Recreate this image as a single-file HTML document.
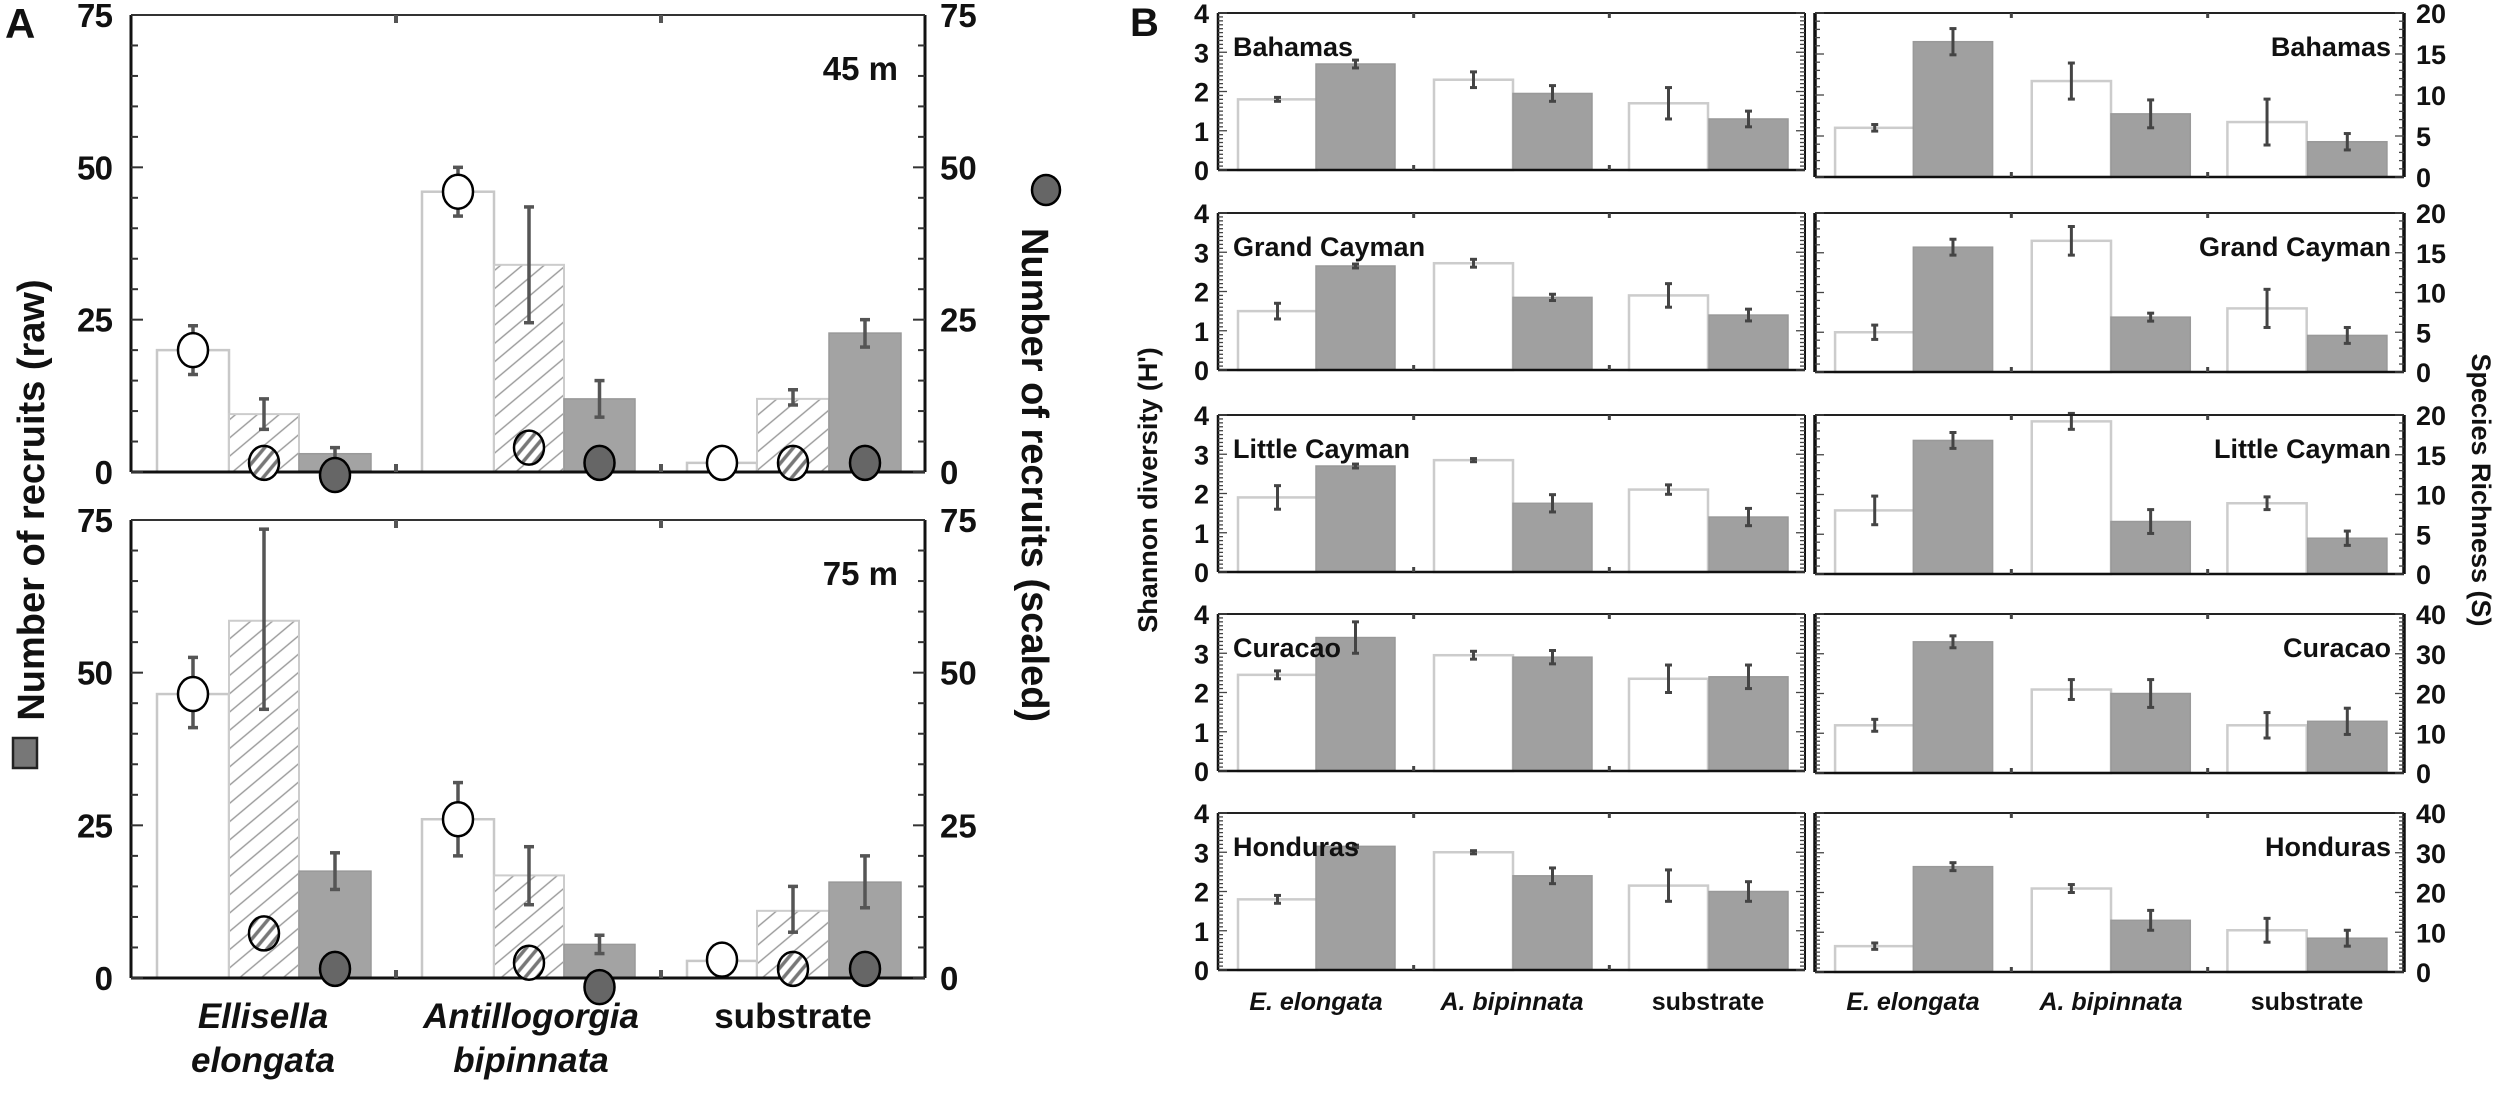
<!DOCTYPE html>
<html><head><meta charset="utf-8"><style>
html,body{margin:0;padding:0;background:#fff;}
svg{display:block;}
text{font-family:"Liberation Sans",sans-serif;font-weight:bold;fill:#111;}
</style></head><body>
<svg id="s" width="2500" height="1094" viewBox="0 0 2500 1094" xmlns="http://www.w3.org/2000/svg">
<defs>
<pattern id="h" patternUnits="userSpaceOnUse" width="14" height="14" patternTransform="rotate(-40)">
<rect width="14" height="14" fill="#fff"/><line x1="0" y1="7" x2="14" y2="7" stroke="#999" stroke-width="1.4"/></pattern>
<pattern id="hc" patternUnits="userSpaceOnUse" width="9" height="9" patternTransform="rotate(-50)">
<rect width="9" height="9" fill="#fff"/><line x1="0" y1="4.5" x2="9" y2="4.5" stroke="#777" stroke-width="3.5"/></pattern>
</defs>
<g id="g"></g>
</svg>
<script>
var g=document.getElementById('g'),o='';
function L(x1,y1,x2,y2,c,w){o+='<line x1="'+x1+'" y1="'+y1+'" x2="'+x2+'" y2="'+y2+'" stroke="'+(c||'#111')+'" stroke-width="'+(w||2)+'"/>';}
function R(x,y,w,h,f,s,sw){o+='<rect x="'+x+'" y="'+y+'" width="'+w+'" height="'+h+'" fill="'+f+'" stroke="'+s+'" stroke-width="'+(sw||2)+'"/>';}
function T(x,y,t,sz,a,ex){o+='<text x="'+x+'" y="'+y+'" font-size="'+sz+'" text-anchor="'+(a||'start')+'" '+(ex||'')+'>'+t+'</text>';}
function E(x,lo,hi,w,c,sw){L(x,lo,x,hi,c||'#444',sw||3);L(x-w,lo,x+w,lo,c||'#444',sw||3);L(x-w,hi,x+w,hi,c||'#444',sw||3);}
// ---------- Panel A ----------
T(5,38,'A',42);
var AL=131,AR=925;
var plots=[{top:15,zero:472,lab:'45 m',
 bars:[[20,16,24],[9.5,7,12],[3,2,4],[46,42,50],[34,24.5,43.5],[12,9,15],[1.5,null,null],[12,11,13.5],[22.8,20.5,25]],
 circ:[20,1.5,-0.5,46,4,1.5,1.5,1.5,1.5]},
 {top:520,zero:978,lab:'75 m',
 bars:[[46.5,41,52.5],[58.5,44,73.5],[17.5,14.5,20.5],[26,20,32],[16.8,12,21.5],[5.5,4,7],[2.8,null,null],[11,7.5,15],[15.7,11.5,20]],
 circ:[46.5,7.3,1.5,26,2.5,-1.5,3,1.5,1.5]}];
var bx=[[157,229],[229,299],[299,371],[422,494],[494,564],[564,635],[687,757],[757,829],[829,901]];
plots.forEach(function(p){
 var sc=(p.zero-p.top)/75;function Y(v){return p.zero-v*sc;}
 p.bars.forEach(function(b,i){
  var t=i%3, x0=bx[i][0], x1=bx[i][1], y=Y(b[0]);
  if(t==0)R(x0,y,x1-x0,p.zero-y,'#fff','#c8c8c8',2.5);
  else if(t==1)R(x0,y,x1-x0,p.zero-y,'url(#h)','#ccc',2);
  else R(x0,y,x1-x0,p.zero-y,'#a3a3a3','#999',1.5);
  if(b[1]!=null)E((x0+x1)/2,Y(b[1]),Y(b[2]),5,'#555',3.5);
 });
 // axes
 L(AL,p.top,AL,p.zero,'#111',3);L(AR,p.top,AR,p.zero,'#111',3);
 L(AL,p.zero,AR,p.zero,'#111',3);L(AL,p.top,AR,p.top,'#333',2);
 for(var v=0;v<=75;v+=5){var y=Y(v),len=(v%25==0)?12:7;L(AL,y,AL+len,y,'#333',2);L(AR-len,y,AR,y,'#333',2);}
 [396,661].forEach(function(x){L(x,p.top,x,p.top+8,'#555',4);L(x,p.zero-8,x,p.zero,'#555',4);});
 [0,25,50,75].forEach(function(v){T(113,Y(v)+12,v,33,'end','textLength="'+(v<10?18:36)+'"');T(940,Y(v)+12,v,33,'start');});
 T(898,p.top+65,p.lab,33,'end');
 p.circ.forEach(function(c,i){var t=i%3,x=(bx[i][0]+bx[i][1])/2,y=Y(c);
  var f=t==0?'#fff':(t==1?'url(#hc)':'#666');
  o+='<ellipse cx="'+x+'" cy="'+y+'" rx="15" ry="17" fill="'+f+'" stroke="#000" stroke-width="2.5"/>';});
});
// A titles
T(0,0,'Number of recruits (raw)',38,'middle','transform="translate(44,500) rotate(-90)"');
R(13,738,24,30,'#777','#222',2.5);
T(0,0,'Number of recruits (scaled)',38,'middle','transform="translate(1022,475) rotate(90)"');
o+='<ellipse cx="1046" cy="190" rx="14" ry="15" fill="#666" stroke="#000" stroke-width="2.5"/>';
T(263,1028,'Ellisella',35,'middle','font-style="italic"');T(263,1072,'elongata',35,'middle','font-style="italic"');
T(531,1028,'Antillogorgia',35,'middle','font-style="italic"');T(531,1072,'bipinnata',35,'middle','font-style="italic"');
T(793,1028,'substrate',35,'middle');
// ---------- Panel B ----------
T(1130,36,'B',40);
var names=['Bahamas','Grand Cayman','Little Cayman','Curacao','Honduras'];
var tops=[13,213,415,614,813],H=157;
var SH=[[[1.8,.05],[2.7,.1],[2.3,.2],[1.95,.2],[1.7,.4],[1.3,.2]],
[[1.5,.2],[2.65,.05],[2.72,.1],[1.85,.08],[1.9,.3],[1.4,.15]],
[[1.9,.3],[2.7,.05],[2.85,.04],[1.75,.22],[2.1,.12],[1.4,.22]],
[[2.45,.1],[3.4,.4],[2.95,.1],[2.9,.17],[2.35,.35],[2.4,.3]],
[[1.8,.1],[3.15,.03],[3.0,.04],[2.4,.2],[2.15,.4],[2.0,.25]]];
var SR=[[[6,.4],[16.5,1.6],[11.7,2.2],[7.7,1.7],[6.7,2.8],[4.3,1]],
[[5,.9],[15.7,1],[16.5,1.8],[6.9,.5],[8,2.4],[4.6,1]],
[[8,1.8],[16.8,1],[19.2,1],[6.6,1.5],[8.9,.8],[4.5,.9]],
[[12,1.5],[33,1.5],[21,2.5],[20,3.5],[12,3.2],[13,3.3]],
[[6.5,.8],[26.5,1],[21,1],[13,2.5],[10.5,3],[8.5,2]]];
var offs=[20,98,216,295,411,491],bw=79;
function panel(x0,x1,top,bot,data,max,nTicks,name,left){
 var sc=(bot-top)/max;function Y(v){return bot-v*sc;}
 data.forEach(function(d,i){var x=x0+offs[i]*(x1-x0)/587,w=bw*(x1-x0)/587,y=Y(d[0]);
  if(i%2==0)R(x,y,w,bot-y,'#fff','#ccc',2.5);else R(x,y,w,bot-y,'#a0a0a0','#999',1.5);
  E(x+w/2,Y(d[0]-d[1]),Y(d[0]+d[1]),3.5,'#444',3);});
 L(x0,top,x1,top,'#222',2);L(x0,bot,x1,bot,'#111',2.5);
 L(x0,top,x0,bot,'#111',left?2.5:3.5);L(x1,top,x1,bot,'#111',left?2:3.5);
 var n=left?40:(max==20?20:40);
 for(var k=0;k<=n;k++){var y=top+k*(bot-top)/n,len=(k%(n/nTicks)==0)?9:5;L(x0,y,x0+len,y,'#444',1.3);L(x1-len,y,x1,y,'#444',1.3);}
 [1/3,2/3].forEach(function(f){var x=x0+f*(x1-x0);L(x,top,x,top+5,'#444',3);L(x,bot-5,x,bot,'#444',3);});
 if(left){T(x0+15,top+43,name,27,'start','style="font-stretch:condensed"');
  for(var v=0;v<=4;v++)T(1209,Y(v)+10,v,27,'end');}
 else{T(x1-13,top+43,name,27,'end');
  for(var v=0;v<=max;v+=max/4)T(2416,Y(v)+10,v,27,'start');}
}
for(var r=0;r<5;r++){
 panel(1218,1805,tops[r],tops[r]+H,SH[r],4,4,names[r],true);
 var rb=tops[r]+H+(r==0?7:2);
 panel(1815,2404,tops[r]+(r==0?0:0),rb,SR[r],r<3?20:40,4,names[r],false);
}
T(0,0,"Shannon diversity (H')",27,'middle','transform="translate(1157,490) rotate(-90)"');
T(0,0,"Species Richness (S)",27,'middle','transform="translate(2472,490) rotate(90)"');
[['E. elongata',1316,'italic'],['A. bipinnata',1512,'italic'],['substrate',1708,'normal'],
 ['E. elongata',1913,'italic'],['A. bipinnata',2111,'italic'],['substrate',2307,'normal']].forEach(function(a){
 T(a[1],1010,a[0],25,'middle','font-style="'+a[2]+'"');});
g.innerHTML=o;
</script>
</body></html>
